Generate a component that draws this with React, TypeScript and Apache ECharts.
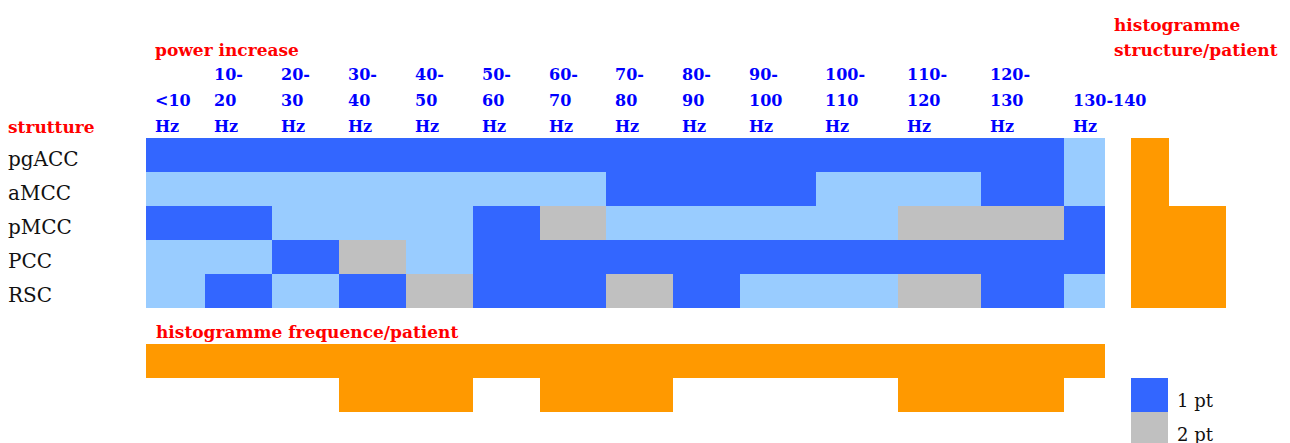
import React, { useEffect, useRef } from "react";
import * as echarts from "echarts";

// ---- data ----
const structures = ["pgACC", "aMCC", "pMCC", "PCC", "RSC"];
const frequencyLabels = [
  "<10\nHz", "10-\n20\nHz", "20-\n30\nHz", "30-\n40\nHz", "40-\n50\nHz", "50-\n60\nHz", "60-\n70\nHz",
  "70-\n80\nHz", "80-\n90\nHz", "90-\n100\nHz", "100-\n110\nHz", "110-\n120\nHz", "120-\n130\nHz", "130-140\nHz",
];
// relative widths of the frequency columns (as drawn in the original table)
const frequencyWidths = [59, 67, 67, 67, 67, 67, 66, 67, 67, 76, 82, 83, 83, 41];

// patients showing a power increase (0 = none, 1 = 1 pt, 2 = 2 pt)
const pgACC = [1, 1, 1, 1, 1, 1, 1, 1, 1, 1, 1, 1, 1, 0];
const aMCC = [0, 0, 0, 0, 0, 0, 0, 1, 1, 1, 0, 0, 1, 0];
const pMCC = [1, 1, 0, 0, 0, 1, 2, 0, 0, 0, 0, 2, 2, 1];
const PCC = [0, 0, 1, 2, 0, 1, 1, 1, 1, 1, 1, 1, 1, 1];
const RSC = [0, 1, 0, 1, 2, 1, 1, 2, 1, 0, 0, 2, 1, 0];

const histogramFrequency = [1, 1, 1, 2, 2, 1, 2, 2, 1, 1, 1, 2, 2, 1];
const histogramStructure = [2, 2, 5, 5, 5];

const legendNames = ["0 pt", "1 pt", "2 pt"];

// ---- styles ----
const C_LIGHT = "#99CCFF";
const C_BLUE = "#3366FF";
const C_GRAY = "#C0C0C0";
const C_ORANGE = "#FF9900";
const C_RED = "#FF0000";
const C_LABEL = "#0000FF";
const SERIF = "'DejaVu Serif', serif";

export default function App() {
  const ref = useRef<HTMLDivElement>(null);

  useEffect(() => {
    if (!ref.current) return;
    const chart = echarts.init(ref.current, undefined, { renderer: "svg" });

    const matrix = [pgACC, aMCC, pMCC, PCC, RSC];
    const edges: number[] = [0];
    frequencyWidths.forEach((w, i) => edges.push(edges[i] + w));
    const total = edges[edges.length - 1];

    const cellData = (level: number) => {
      const out: number[][] = [];
      matrix.forEach((row, r) =>
        row.forEach((v, c) => {
          if (v === level) out.push([edges[c], edges[c + 1], r, v]);
        })
      );
      return out;
    };

    const renderCell = (params: any, api: any) => {
      const p0 = api.coord([api.value(0), api.value(2)]);
      const p1 = api.coord([api.value(1), api.value(2)]);
      const h = api.size([0, 1])[1];
      return {
        type: "rect",
        shape: { x: p0[0], y: p0[1] - h / 2, width: p1[0] - p0[0], height: h },
        style: { fill: api.visual("color") },
      };
    };

    const cellColors = [C_LIGHT, C_BLUE, C_GRAY];
    const heatSeries = legendNames.map((name, lvl) => ({
      type: "custom",
      name,
      xAxisIndex: 0,
      yAxisIndex: 0,
      itemStyle: { color: cellColors[lvl] },
      encode: { x: [0, 1], y: 2 },
      renderItem: renderCell,
      data: cellData(lvl),
    }));

    const labelData = frequencyLabels.map((_, c) => [edges[c], edges[c + 1], 0]);

    const option: any = {
      animation: false,
      backgroundColor: "#ffffff",
      grid: [
        { left: 146, top: 138, width: total, height: 170 },
        { left: 1131, top: 138, width: 95, height: 170 },
        { left: 146, top: 344, width: total, height: 68 },
      ],
      xAxis: [
        { type: "value", gridIndex: 0, min: 0, max: total, show: false },
        { type: "value", gridIndex: 1, min: 0, max: 5, show: false },
        { type: "value", gridIndex: 2, min: 0, max: total, show: false },
      ],
      yAxis: [
        {
          type: "category",
          gridIndex: 0,
          data: structures,
          inverse: true,
          axisLine: { show: false },
          axisTick: { show: false },
          splitLine: { show: false },
          axisLabel: {
            align: "left",
            margin: 138,
            formatter: "{s|{value}}",
            rich: {
              s: {
                fontFamily: SERIF,
                fontSize: 20,
                color: "#111",
                padding: [8, 0, 0, 0],
              },
            },
          },
        },
        { type: "category", gridIndex: 1, data: structures, inverse: true, show: false },
        { type: "value", gridIndex: 2, min: 0, max: 2, inverse: true, show: false },
      ],
      legend: {
        data: ["1 pt", "2 pt"],
        orient: "vertical",
        left: 1131,
        top: 378,
        height: 120,
        itemWidth: 37,
        itemHeight: 34,
        itemGap: 0,
        icon: "rect",
        selectedMode: false,
        padding: 0,
        formatter: "{t|{name}}",
        textStyle: {
          rich: {
            t: { fontFamily: SERIF, fontSize: 18, color: "#111", padding: [10, 0, 0, 4] },
          },
        },
      },
      graphic: [
        { type: "text", left: 155, top: 41, style: { text: "power increase", fill: C_RED, font: `bold 17px ${SERIF}` } },
        { type: "text", left: 8, top: 118, style: { text: "strutture", fill: C_RED, font: `bold 17px ${SERIF}` } },
        {
          type: "text",
          left: 1114,
          top: 12,
          style: { text: "histogramme\nstructure/patient", fill: C_RED, font: `bold 17px ${SERIF}`, lineHeight: 25 },
        },
        {
          type: "text",
          left: 156,
          top: 323,
          style: { text: "histogramme frequence/patient", fill: C_RED, font: `bold 17px ${SERIF}` },
        },
      ],
      series: [
        ...heatSeries,
        {
          type: "custom",
          name: "labels",
          xAxisIndex: 0,
          yAxisIndex: 0,
          encode: { x: [0, 1], y: 2 },
          data: labelData,
          renderItem: (params: any, api: any) => {
            const p = api.coord([api.value(0), api.value(2)]);
            const h = api.size([0, 1])[1];
            return {
              type: "text",
              x: p[0] + 9,
              y: p[1] - h / 2 + 1,
              style: {
                text: frequencyLabels[params.dataIndex],
                fill: C_LABEL,
                font: `bold 16px ${SERIF}`,
                lineHeight: 26,
                align: "left",
                verticalAlign: "bottom",
              },
            };
          },
        },
        {
          type: "bar",
          name: "structure",
          xAxisIndex: 1,
          yAxisIndex: 1,
          barWidth: "100%",
          barCategoryGap: 0,
          itemStyle: { color: C_ORANGE },
          data: histogramStructure,
        },
        {
          type: "custom",
          name: "frequency",
          xAxisIndex: 2,
          yAxisIndex: 2,
          encode: { x: [0, 1], y: 2 },
          itemStyle: { color: C_ORANGE },
          data: histogramFrequency.map((v, c) => [edges[c], edges[c + 1], v]),
          renderItem: (params: any, api: any) => {
            const p0 = api.coord([api.value(0), 0]);
            const p1 = api.coord([api.value(1), api.value(2)]);
            return {
              type: "rect",
              shape: { x: p0[0], y: p0[1], width: p1[0] - p0[0], height: p1[1] - p0[1] },
              style: { fill: api.visual("color") },
            };
          },
        },
      ],
    };

    chart.setOption(option);
    return () => chart.dispose();
  }, []);

  return (
    <div
      ref={ref}
      style={{ position: "absolute", left: 0, top: 0, width: 1290, height: 443, background: "#fff" }}
    />
  );
}
